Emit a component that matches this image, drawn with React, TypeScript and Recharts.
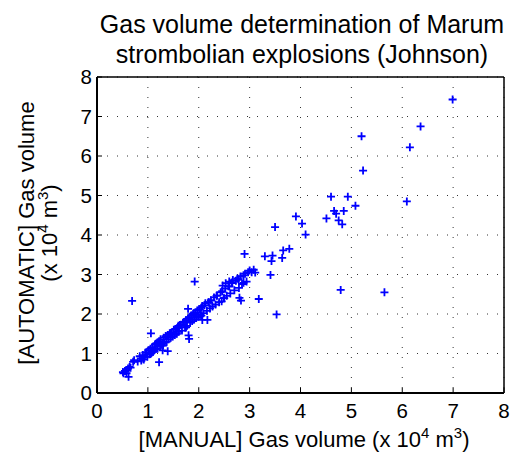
import React from 'react';
import { ScatterChart, Scatter, XAxis, YAxis, CartesianGrid } from 'recharts';

const manualVolume: number[] = [
  0.52, 0.55, 0.58, 0.61, 0.64, 0.71, 0.80, 0.84, 0.87, 0.90, 0.93, 0.95, 0.97, 0.99,
  1.01, 1.03, 1.05, 1.07, 1.09, 1.10, 1.12, 1.14, 1.15, 1.17, 1.19, 1.20, 1.22, 1.24,
  1.25, 1.27, 1.29, 1.31, 1.33, 1.35, 1.37, 1.39, 1.41, 1.43, 1.45, 1.47, 1.49, 1.51,
  1.53, 1.55, 1.57, 1.59, 1.61, 1.63, 1.65, 1.67, 1.69, 1.71, 1.73, 1.75, 1.77, 1.79,
  1.81, 1.83, 1.85, 1.87, 1.89, 1.91, 1.93, 1.95, 1.97, 1.99, 2.01, 2.03, 2.05, 2.07,
  2.09, 2.11, 2.13, 2.16, 2.19, 2.22, 2.24, 2.27, 2.30, 2.33, 2.36, 2.40, 2.43, 2.46,
  2.49, 2.52, 2.55, 2.58, 2.62, 2.66, 2.70, 2.73, 2.76, 2.79, 2.82, 2.85, 2.88, 2.91,
  2.94, 2.97, 3.00, 3.04, 3.08, 1.30, 1.45, 1.60, 1.75, 1.90, 2.05, 2.20, 2.35, 2.50,
  2.65, 2.78, 2.60, 2.45, 1.15, 1.05, 0.92, 2.47, 2.67, 2.53, 2.60,
  6.99, 6.36, 5.20, 6.15, 5.23, 4.60, 4.93, 5.08, 6.09, 4.66, 4.70, 4.85, 4.51, 4.75,
  4.82, 4.03, 4.10, 4.79, 5.65, 3.50, 3.91, 2.90, 3.30, 3.45, 3.43, 3.64, 3.66, 3.78,
  3.41, 3.11, 1.92, 3.18, 2.80, 2.83, 3.53, 1.79, 2.17, 2.07, 0.69, 1.06, 1.80, 1.81,
  1.29, 1.39, 1.22, 0.73, 0.88, 0.62, 0.66, 0.51, 0.57, 2.88,
];

const automaticVolume: number[] = [
  0.50, 0.56, 0.50, 0.62, 0.66, 0.79, 0.80, 0.93, 0.82, 0.96, 0.90, 1.02, 1.03, 0.92,
  1.08, 0.98, 1.12, 1.01, 1.16, 1.04, 1.08, 1.22, 1.12, 1.26, 1.12, 1.28, 1.31, 1.18,
  1.36, 1.22, 1.26, 1.40, 1.28, 1.44, 1.30, 1.47, 1.36, 1.51, 1.40, 1.54, 1.43, 1.60,
  1.47, 1.62, 1.50, 1.67, 1.55, 1.72, 1.73, 1.58, 1.78, 1.80, 1.66, 1.84, 1.70, 1.88,
  1.92, 1.78, 1.96, 1.82, 2.00, 1.86, 2.04, 1.90, 2.09, 1.93, 2.12, 1.98, 2.16, 2.20,
  2.02, 2.22, 2.27, 2.08, 2.30, 2.14, 2.35, 2.19, 2.42, 2.24, 2.47, 2.30, 2.55, 2.58,
  2.40, 2.64, 2.46, 2.70, 2.52, 2.78, 2.60, 2.84, 2.90, 2.66, 2.95, 2.76, 2.98, 3.02,
  2.82, 3.06, 3.10, 3.06, 3.12, 1.20, 1.52, 1.70, 1.66, 2.02, 1.96, 2.30, 2.46, 2.40,
  2.80, 2.88, 2.70, 2.32, 1.24, 0.99, 0.85, 2.72, 2.86, 2.78, 2.82,
  7.43, 6.75, 6.50, 6.22, 5.63, 4.97, 4.97, 4.74, 4.85, 4.61, 4.54, 4.61, 4.42, 4.37,
  4.27, 4.29, 4.01, 2.61, 2.55, 4.20, 4.47, 3.52, 3.46, 3.48, 3.34, 3.42, 3.61, 3.65,
  2.99, 3.05, 2.82, 2.38, 2.41, 2.34, 1.99, 2.13, 1.85, 1.85, 2.33, 1.51, 1.46, 1.37,
  1.08, 1.06, 0.78, 0.83, 0.87, 0.41, 0.64, 0.53, 0.57, 2.79,
];

const axisTicks: number[] = [0, 1, 2, 3, 4, 5, 6, 7, 8];

const titleLines: string[] = ['Gas volume determination of Marum', 'strombolian explosions (Johnson)'];

const points = manualVolume.map((m, i) => ({ manual: m, automatic: automaticVolume[i] }));

const FONT = '"Liberation Sans", Arial, Helvetica, sans-serif';
const BLUE = '#0000ff';

const PlusMarker = (props: any) => {
  const { cx, cy } = props;
  if (cx == null || cy == null) return null;
  return (
    <path
      d={`M${cx - 4},${cy}H${cx + 4}M${cx},${cy - 4}V${cy + 4}`}
      stroke={BLUE}
      strokeWidth={1.8}
      fill="none"
    />
  );
};

const TICK_MARGIN_X = 10;
const TICK_MARGIN_Y = 5;
const INNER_TICK = 5;

const BottomTick = (props: any) => {
  const { x, y, payload } = props;
  const axisY = y - TICK_MARGIN_X;
  return (
    <g>
      <line x1={x} x2={x} y1={axisY} y2={axisY - INNER_TICK} stroke="#000" strokeWidth={1} />
      <text x={x} y={y} dy="0.71em" textAnchor="middle" fontSize={20.5} fontFamily={FONT} fill="#000">
        {payload.value}
      </text>
    </g>
  );
};

const LeftTick = (props: any) => {
  const { x, y, payload } = props;
  const axisX = x + TICK_MARGIN_Y;
  return (
    <g>
      <line x1={axisX} x2={axisX + INNER_TICK} y1={y} y2={y} stroke="#000" strokeWidth={1} />
      <text x={x} y={y} dy="0.355em" textAnchor="end" fontSize={20.5} fontFamily={FONT} fill="#000">
        {payload.value}
      </text>
    </g>
  );
};

export default function App() {
  return (
    <div style={{ position: 'absolute', left: 0, top: 0, width: 513, height: 453, background: '#fff' }}>
      <ScatterChart
        width={513}
        height={453}
        margin={{ top: 77, right: 9, bottom: 30, left: 67 }}
        style={{ position: 'absolute', left: 0, top: 0 }}
      >
        <CartesianGrid stroke="#333" strokeDasharray="1 9" strokeWidth={1} />
        <XAxis
          xAxisId={0}
          dataKey="manual"
          type="number"
          domain={[0, 8]}
          ticks={axisTicks}
          height={30}
          tickSize={0}
          tickMargin={TICK_MARGIN_X}
          tickLine={false}
          tick={<BottomTick />}
          axisLine={{ stroke: '#000', strokeWidth: 2 }}
          interval={0}
        />
        <YAxis
          yAxisId={0}
          dataKey="automatic"
          type="number"
          domain={[0, 8]}
          ticks={axisTicks}
          width={30}
          tickSize={0}
          tickMargin={TICK_MARGIN_Y}
          tickLine={false}
          tick={<LeftTick />}
          axisLine={{ stroke: '#000', strokeWidth: 2 }}
          interval={0}
        />
        <XAxis
          xAxisId="top"
          orientation="top"
          type="number"
          domain={[0, 8]}
          ticks={axisTicks}
          mirror
          height={20}
          tickSize={INNER_TICK}
          tickFormatter={() => ''}
          tickLine={{ stroke: '#000', strokeWidth: 1 }}
          axisLine={{ stroke: '#000', strokeWidth: 1.5 }}
          interval={0}
        />
        <YAxis
          yAxisId="right"
          orientation="right"
          type="number"
          domain={[0, 8]}
          ticks={axisTicks}
          mirror
          width={20}
          tickSize={INNER_TICK}
          tickFormatter={() => ''}
          tickLine={{ stroke: '#000', strokeWidth: 1 }}
          axisLine={{ stroke: '#000', strokeWidth: 1.5 }}
          interval={0}
        />
        <Scatter
          data={points}
          xAxisId={0}
          yAxisId={0}
          shape={<PlusMarker />}
          isAnimationActive={false}
        />
      </ScatterChart>
      <svg
        width={513}
        height={453}
        style={{ position: 'absolute', left: 0, top: 0, pointerEvents: 'none' }}
        fontFamily={FONT}
      >
        <text x={302} y={33} textAnchor="middle" fontSize={25} fill="#000">{titleLines[0]}</text>
        <text x={302} y={63} textAnchor="middle" fontSize={25} fill="#000">{titleLines[1]}</text>
        <text x={304} y={447} textAnchor="middle" fontSize={22} fill="#000">
          [MANUAL] Gas volume (x 10<tspan dy={-9} fontSize={15}>4</tspan>
          <tspan dy={9}> m</tspan>
          <tspan dy={-9} fontSize={15}>3</tspan>
          <tspan dy={9}>)</tspan>
        </text>
        <g transform="translate(34,233) rotate(-90)">
          <text x={0} y={0} textAnchor="middle" fontSize={22} fill="#000">[AUTOMATIC] Gas volume</text>
        </g>
        <g transform="translate(57,233) rotate(-90)">
          <text x={0} y={0} textAnchor="middle" fontSize={22} fill="#000">
            (x 10<tspan dy={-9} fontSize={15}>4</tspan>
            <tspan dy={9}> m</tspan>
            <tspan dy={-9} fontSize={15}>3</tspan>
            <tspan dy={9}>)</tspan>
          </text>
        </g>
      </svg>
    </div>
  );
}
